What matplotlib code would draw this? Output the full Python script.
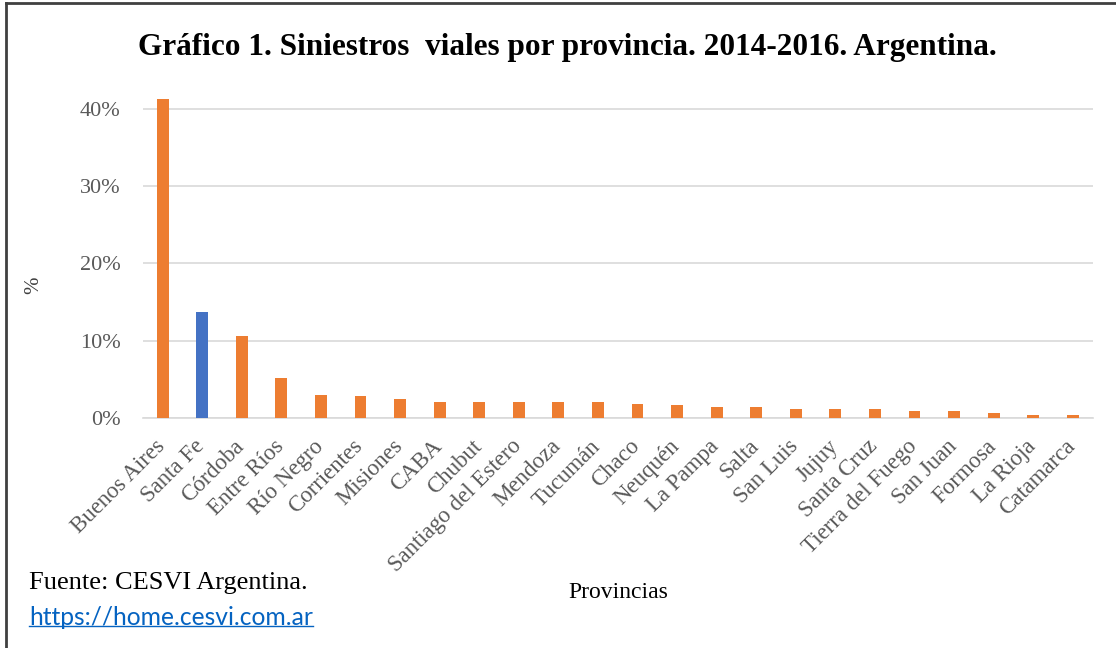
import matplotlib.pyplot as plt
from matplotlib.lines import Line2D
from matplotlib.ticker import PercentFormatter
from matplotlib.transforms import ScaledTranslation

# datos (porcentaje de siniestros por provincia)
provincias = ['Buenos Aires', 'Santa Fe', 'Córdoba', 'Entre Ríos', 'Río Negro', 'Corrientes',
              'Misiones', 'CABA', 'Chubut', 'Santiago del Estero', 'Mendoza', 'Tucumán',
              'Chaco', 'Neuquén', 'La Pampa', 'Salta', 'San Luis', 'Jujuy', 'Santa Cruz',
              'Tierra del Fuego', 'San Juan', 'Formosa', 'La Rioja', 'Catamarca']
porcentajes = [41.3, 13.7, 10.6, 5.2, 3.0, 2.85, 2.4, 2.1, 2.1, 2.05, 2.1, 2.0,
               1.85, 1.68, 1.38, 1.38, 1.16, 1.16, 1.16, 0.9, 0.9, 0.69, 0.43, 0.39]
destacada = 'Santa Fe'

naranja = '#ED7D31'
azul = '#4472C4'
colores = [azul if p == destacada else naranja for p in provincias]

serif = ['Liberation Serif', 'DejaVu Serif']

fig = plt.figure(figsize=(11.16, 6.48), dpi=100)
ax = fig.add_axes([0.128, 0.355, 0.851, 0.537])

x = range(len(provincias))
ax.bar(x, porcentajes, width=0.3, color=colores, zorder=3)
ax.set_xlim(-0.5, len(provincias) - 0.5)
ax.set_ylim(0, 45)
ax.set_yticks([0, 10, 20, 30, 40])
ax.yaxis.set_major_formatter(PercentFormatter(decimals=0))
ax.grid(axis='y', color='#d9d9d9', linewidth=1.2, zorder=0)
for s in ['top', 'right', 'left']:
    ax.spines[s].set_visible(False)
ax.spines['bottom'].set_color('#d9d9d9')
ax.spines['bottom'].set_linewidth(1.2)
ax.tick_params(axis='both', length=0)
ax.tick_params(axis='y', pad=16, labelsize=16, labelcolor='#595959')
ax.set_xticks(list(x))
ax.set_xticklabels(provincias, rotation=45, ha='right', rotation_mode='anchor',
                   fontsize=16.5, color='#595959', family=serif)
ax.tick_params(axis='x', pad=10)
# correr un poco las etiquetas a la izquierda y abajo
desplazamiento = ScaledTranslation(-0.08, -0.04, fig.dpi_scale_trans)
for lab in ax.get_xticklabels():
    lab.set_transform(lab.get_transform() + desplazamiento)
for lab in ax.get_yticklabels():
    lab.set_family(serif)

fig.text(0.508, 0.927, 'Gráfico 1. Siniestros  viales por provincia. 2014-2016. Argentina.',
         ha='center', va='center', fontsize=22.5, fontweight='bold', family=serif)
fig.text(0.030, 0.56, '%', rotation=90, ha='center', va='center', fontsize=15,
         color='#404040', family=serif)
fig.text(0.554, 0.086, 'Provincias', ha='center', va='center', fontsize=17, family=serif)
fig.text(0.026, 0.100, 'Fuente: CESVI Argentina.', ha='left', va='center', fontsize=19,
         family=serif)
url = fig.text(0.026, 0.047, 'https://home.cesvi.com.ar', ha='left', va='center',
               fontsize=17.7, color='#0563C1', family=['Lato', 'DejaVu Sans'])

# subrayado del enlace
fig.canvas.draw()
bb = url.get_window_extent().transformed(fig.transFigure.inverted())
fig.add_artist(Line2D([bb.x0, bb.x1], [bb.y0 + 0.004, bb.y0 + 0.004],
                      transform=fig.transFigure, color='#0563C1', linewidth=1))

# marco superior e izquierdo
fig.add_artist(Line2D([0.005, 1.0], [0.995, 0.995], transform=fig.transFigure,
                      color='#404040', linewidth=2))
fig.add_artist(Line2D([0.005, 0.005], [0.0, 0.995], transform=fig.transFigure,
                      color='#404040', linewidth=2))

fig.savefig('out.png', dpi=100)
